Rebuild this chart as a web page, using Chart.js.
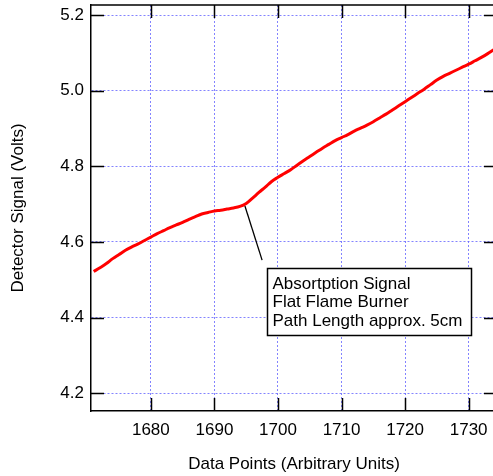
<!DOCTYPE html>
<html>
<head>
<meta charset="utf-8">
<script src="https://cdn.jsdelivr.net/npm/chart.js@4"></script>
<style>
  html, body { margin: 0; padding: 0; background: #fff; overflow: hidden; }
  canvas { display: block; }
</style>
</head>
<body>
<canvas id="chart" width="500" height="476"></canvas>
<script>
// data
const dataPoints = [1671, 1672, 1673, 1674, 1675, 1676, 1677, 1678, 1679, 1680,
  1681, 1682, 1683, 1684, 1685, 1686, 1687, 1688, 1689, 1690,
  1691, 1692, 1693, 1694, 1695, 1696, 1697, 1698, 1699, 1700,
  1701, 1702, 1703, 1704, 1705, 1706, 1707, 1708, 1709, 1710,
  1711, 1712, 1713, 1714, 1715, 1716, 1717, 1718, 1719, 1720,
  1721, 1722, 1723, 1724, 1725, 1726, 1727, 1728, 1729, 1730,
  1731, 1732, 1733, 1734, 1735];
const signalVolts = [4.522, 4.532, 4.543, 4.556, 4.567, 4.578, 4.587, 4.595, 4.604, 4.613,
  4.622, 4.630, 4.638, 4.645, 4.652, 4.660, 4.667, 4.674, 4.678, 4.682,
  4.684, 4.687, 4.690, 4.694, 4.702, 4.716, 4.731, 4.745, 4.760, 4.771,
  4.781, 4.791, 4.803, 4.815, 4.826, 4.837, 4.848, 4.858, 4.868, 4.876,
  4.884, 4.893, 4.901, 4.909, 4.918, 4.928, 4.938, 4.949, 4.960, 4.971,
  4.982, 4.993, 5.004, 5.016, 5.028, 5.038, 5.046, 5.054, 5.062, 5.070,
  5.079, 5.088, 5.098, 5.109, 5.118];
const xTicks = [1680, 1690, 1700, 1710, 1720, 1730];
const yTicks = [4.2, 4.4, 4.6, 4.8, 5.0, 5.2];
const noteLines = ['Absortption Signal', 'Flat Flame Burner', 'Path Length approx. 5cm'];
// pointer line and box corners, in data units
const notePointer = [[1694.8, 4.695], [1697.5, 4.552]];
const noteBox = { x1: 1698.2, y1: 4.531, x2: 1730.3, y2: 4.355 };

const FONT = '"Liberation Sans", Arial, sans-serif';
const gridBlue = 'rgba(100, 100, 255, 0.8)';

// inward tick marks, top/right frame and the text note
const framePlugin = {
  id: 'frame',
  afterDraw(chart) {
    const { ctx, chartArea: a, scales: { x, y } } = chart;
    const len = 13;
    ctx.save();
    ctx.strokeStyle = '#000';
    ctx.lineWidth = 1.5;
    ctx.beginPath();
    ctx.moveTo(a.left, a.top); ctx.lineTo(a.right, a.top); ctx.lineTo(a.right, a.bottom);
    ctx.stroke();
    ctx.beginPath();
    xTicks.forEach(v => {
      const px = Math.round(x.getPixelForValue(v)) + 0.5;
      ctx.moveTo(px, a.bottom); ctx.lineTo(px, a.bottom - len);
      ctx.moveTo(px, a.top); ctx.lineTo(px, a.top + len);
    });
    yTicks.forEach(v => {
      const py = Math.round(y.getPixelForValue(v)) + 0.5;
      ctx.moveTo(a.left, py); ctx.lineTo(a.left + len, py);
      ctx.moveTo(a.right, py); ctx.lineTo(a.right - len, py);
    });
    ctx.stroke();

    // pointer
    ctx.lineWidth = 1.3;
    ctx.beginPath();
    ctx.moveTo(x.getPixelForValue(notePointer[0][0]), y.getPixelForValue(notePointer[0][1]));
    ctx.lineTo(x.getPixelForValue(notePointer[1][0]), y.getPixelForValue(notePointer[1][1]));
    ctx.stroke();

    // box
    const bx = Math.round(x.getPixelForValue(noteBox.x1)) + 0.5;
    const by = Math.round(y.getPixelForValue(noteBox.y1)) + 0.5;
    const bw = Math.round(x.getPixelForValue(noteBox.x2)) - Math.round(x.getPixelForValue(noteBox.x1));
    const bh = Math.round(y.getPixelForValue(noteBox.y2)) - Math.round(y.getPixelForValue(noteBox.y1));
    ctx.fillStyle = '#fff';
    ctx.fillRect(bx, by, bw, bh);
    ctx.lineWidth = 1.5;
    ctx.strokeRect(bx, by, bw, bh);
    ctx.fillStyle = '#000';
    ctx.font = '17px ' + FONT;
    ctx.textBaseline = 'alphabetic';
    noteLines.forEach((t, i) => ctx.fillText(t, bx + 5, by + 20 + i * 18.5));
    ctx.restore();
  }
};

const noPad = s => { s.paddingTop = 0; s.paddingBottom = 0; s.paddingLeft = 0; s.paddingRight = 0; };

new Chart(document.getElementById('chart'), {
  type: 'line',
  data: {
    datasets: [{
      data: dataPoints.map((v, i) => ({ x: v, y: signalVolts[i] })),
      borderColor: '#ff0000',
      borderWidth: 3,
      pointRadius: 0,
      tension: 0.4,
      fill: false
    }]
  },
  options: {
    responsive: false,
    animation: false,
    events: [],
    layout: { padding: { top: 5, right: 3, left: 0, bottom: 0 } },
    plugins: { legend: { display: false }, tooltip: { enabled: false } },
    scales: {
      x: {
        type: 'linear',
        min: 1670.58,
        max: 1734.46,
        afterFit: s => { s.height = 65; noPad(s); },
        afterBuildTicks: s => { s.ticks = xTicks.map(v => ({ value: v })); },
        ticks: { color: '#000', font: { family: FONT, size: 17 }, padding: 9, maxRotation: 0, autoSkip: false,
                 callback: v => String(v) },
        grid: { color: gridBlue, lineWidth: 1, drawTicks: false },
        border: { color: '#000', width: 1.5, dash: [2, 2] },
        title: { display: true, text: 'Data Points (Arbitrary Units)', color: '#000',
                 font: { family: FONT, size: 17 }, padding: { top: 0, bottom: 1 } }
      },
      y: {
        min: 4.1532,
        max: 5.2265,
        afterFit: s => { s.width = 91; noPad(s); },
        afterBuildTicks: s => { s.ticks = yTicks.map(v => ({ value: v })); },
        ticks: { color: '#000', font: { family: FONT, size: 17 }, padding: 7,
                 callback: v => Number(v).toFixed(1) },
        grid: { color: gridBlue, lineWidth: 1, drawTicks: false },
        border: { color: '#000', width: 1.5, dash: [2, 2] },
        title: { display: true, text: 'Detector Signal (Volts)', color: '#000',
                 font: { family: FONT, size: 17 }, padding: { top: 8, bottom: 0 } }
      }
    }
  },
  plugins: [framePlugin]
});
</script>
</body>
</html>
